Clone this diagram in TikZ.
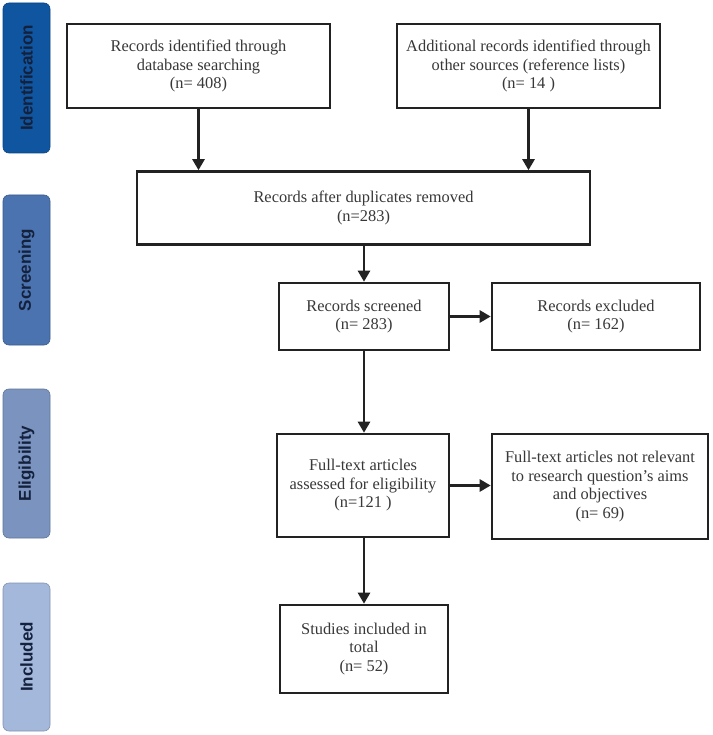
\documentclass[tikz,border=0pt]{standalone}
\usepackage{fontspec}
\setmainfont{Liberation Serif}
\newfontfamily\labelfont{Liberation Sans}
\usetikzlibrary{arrows.meta}
\definecolor{cIdent}{HTML}{0F55A0}
\definecolor{cScreen}{HTML}{4A73AF}
\definecolor{cElig}{HTML}{7A93BF}
\definecolor{cText}{HTML}{14213D}
\definecolor{cIncl}{HTML}{A4B8DB}
\definecolor{cLine}{HTML}{222222}
\tikzset{
  x=1pt, y=-1pt,
  stage/.style={draw=#1!80!black, line width=0.6pt, fill=#1, rounded corners=6pt, minimum width=47pt, inner sep=0pt},
  stagetext/.style={font=\labelfont\bfseries\fontsize{17}{19}\selectfont, text=cText, rotate=90},
  box/.style={draw=cLine, line width=2.6pt, fill=white, align=center, inner sep=2pt, font=\fontsize{16.4}{18.5}\selectfont, text=black!78},
  arr/.style={draw=cLine, line width=2.6pt, -{Triangle[length=11pt,width=12pt]}},
}
\begin{document}
\begin{tikzpicture}
\useasboundingbox (0,0) rectangle (712,735);
\fill[white] (0,0) rectangle (712,735);
% stage bars
\node[stage=cIdent, minimum height=150pt] (s1) at (26.5,78) {};
\node[stagetext] (s1t) at (s1) {Identification};
\node[stage=cScreen, minimum height=150pt] (s2) at (26.5,270) {};
\node[stagetext] (s2t) at (s2) {Screening};
\node[stage=cElig, minimum height=149pt] (s3) at (26.5,463.5) {};
\node[stagetext] (s3t) at (s3) {Eligibility};
\node[stage=cIncl, minimum height=148pt] (s4) at (26.5,657) {};
\node[stagetext] (s4t) at (s4) {Included};
% boxes
\node[box, minimum width=263pt, minimum height=84pt] (b1) at (198.5,66) {Records identified through\\database searching\\(n= 408)};
\node[box, minimum width=263pt, minimum height=84pt] (b2) at (528.5,66) {Additional records identified through\\other sources (reference lists)\\(n= 14 )};
\node[box, minimum width=453pt, minimum height=73pt] (b3) at (363.5,208) {Records after duplicates removed\\(n=283)};
\node[box, minimum width=170pt, minimum height=67pt] (b4) at (364,316.5) {Records screened\\(n= 283)};
\node[box, minimum width=208pt, minimum height=67pt] (b5) at (596,316.5) {Records excluded\\(n= 162)};
\node[box, minimum width=172pt, minimum height=103pt] (b6) at (363,485.5) {Full-text articles\\assessed for eligibility\\(n=121 )};
\node[box, minimum width=216pt, minimum height=105pt] (b7) at (600,486.5) {Full-text articles not relevant\\to research question's aims\\and objectives\\(n= 69)};
\node[box, minimum width=168pt, minimum height=88pt] (b8) at (364,649) {Studies included in\\total\\(n= 52)};
% arrows
\draw[arr] (b1.south) -- (b1.south |- b3.north);
\draw[arr] (b2.south) -- (b2.south |- b3.north);
\draw[arr] (b3.south -| b4.north) -- (b4.north);
\draw[arr] (b4.east) -- (b5.west);
\draw[arr] (b4.south) -- (b4.south |- b6.north);
\draw[arr] (b6.east) -- (b6.east -| b7.west);
\draw[arr] (b6.south -| b8.north) -- (b8.north);
\end{tikzpicture}
\end{document}
